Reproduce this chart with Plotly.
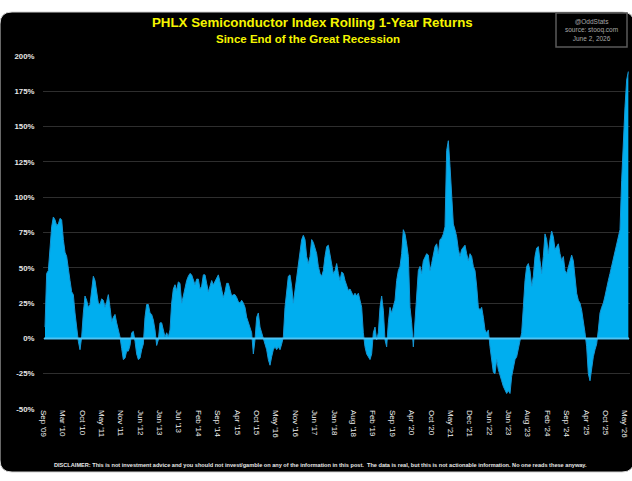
import numpy as np
import plotly.graph_objects as go

# Rolling 1-year return (%), in three consecutive stretches
returns_2009_2013 = [8, 46, 48, 65, 79, 86, 84, 80, 81, 85,
                     84, 70, 61, 58, 51, 41, 33, 31, 18, 6,
                     -2, -8, 1, 18, 30, 27, 22, 24, 34, 44,
                     41, 32, 25, 24, 28, 27, 22, 26, 31, 22,
                     12, 15, 17, 11, 6, 1, -7, -15, -14, -9,
                     -9, -5, 4, 5, -2, -11, -15, -14, -8, -4,
                     15, 24, 24, 18, 17, 13, 6, -5, -1, 11,
                     11, 5, 1, 4, 1, 6, 25, 35, 38, 34,
                     40, 39, 25, 30, 37, 41, 44, 46, 45, 42,
                     38, 42, 42, 35, 37, 45, 45, 39, 33, 37,
                     41, 38, 40, 43, 45, 40, 33, 29, 33, 39,
                     39, 34, 30, 31, 31, 29, 26]
returns_2014_2020 = [25, 27, 25, 22, 15, 11, 8, 4, -11, -1,
                     15, 18, 8, 4, -1, -4, -8, -15, -19, -13,
                     -8, -6, -8, -6, -8, -4, 1, 22, 32, 44,
                     45, 37, 25, 34, 41, 51, 58, 70, 73, 70,
                     58, 53, 58, 70, 68, 63, 60, 51, 46, 44,
                     48, 58, 65, 66, 60, 53, 46, 48, 53, 46,
                     41, 47, 46, 41, 37, 34, 35, 32, 30, 32,
                     30, 32, 27, 22, 4, -6, -11, -13, -15, -11,
                     4, 8, -1, 4, 22, 30, 20, -1, -6, 11,
                     22, 18, 22, 27, 41, 48, 51, 60, 77, 74,
                     67, 58, 22, 11, -6, 15, 32, 48, 51, 46,
                     55, 58, 60, 59]
returns_2020_2026 = [48, 53, 60, 65, 67, 60, 70, 71, 74, 79,
                     133, 140, 122, 100, 81, 77, 72, 63, 58, 63,
                     65, 66, 60, 55, 60, 58, 51, 48, 37, 22,
                     20, 22, 15, 6, 4, 6, -6, -15, -24, -25,
                     -15, -22, -27, -30, -34, -37, -39, -37, -39, -27,
                     -20, -15, -13, -8, -1, 4, 22, 41, 51, 53,
                     48, 37, 44, 58, 64, 65, 55, 46, 58, 74,
                     70, 60, 70, 76, 72, 63, 65, 67, 60, 55,
                     58, 48, 46, 51, 55, 59, 55, 44, 32, 27,
                     25, 20, 13, 4, -6, -25, -30, -20, -13, -8,
                     -4, 6, 18, 22, 25, 30, 37, 41, 46, 51,
                     55, 60, 67, 72, 77, 112, 140, 164, 183, 189]

tick_labels = ["Sep '09", "Mar '10", "Oct '10", "May '11", "Nov '11", "Jun '12",
               "Jan '13", "Jul '13", "Feb '14", "Sep '14", "Apr '15", "Oct '15",
               "May '16", "Nov '16", "Jun '17", "Jan '18", "Aug '18", "Feb '19",
               "Sep '19", "Apr '20", "Oct '20", "May '21", "Dec '21", "Jun '22",
               "Jan '23", "Aug '23", "Feb '24", "Sep '24", "Apr '25", "Oct '25",
               "May '26"]
y_ticks = [-50, -25, 0, 25, 50, 75, 100, 125, 150, 175, 200]

returns = returns_2009_2013 + returns_2014_2020 + returns_2020_2026
n = len(returns)
x = np.arange(n)
tick_pos = np.linspace(-1, n - 3, len(tick_labels))

W, H = 632, 481
ML, MR, MT, MB = 43, 2, 56, 72
PW, PH = W - ML - MR, H - MT - MB


def px(xp):
    return (xp - ML) / PW


def py(yp):
    return (H - MB - yp) / PH


FONT = "Liberation Sans, Arial, sans-serif"

fig = go.Figure()
fig.add_trace(go.Scatter(
    x=x, y=returns, mode="lines", fill="tozeroy",
    line=dict(color="#1596d4", width=1),
    fillcolor="#00AEEF", hoverinfo="skip", showlegend=False))

# dark rounded panel on white page
r = 12
x0, x1, y0, y1 = 0, 634, 12, 472
path = (f"M {px(x0 + r)},{py(y0)} L {px(x1 - r)},{py(y0)} "
        f"Q {px(x1)},{py(y0)} {px(x1)},{py(y0 + r)} "
        f"L {px(x1)},{py(y1 - r)} Q {px(x1)},{py(y1)} {px(x1 - r)},{py(y1)} "
        f"L {px(x0 + r)},{py(y1)} Q {px(x0)},{py(y1)} {px(x0)},{py(y1 - r)} "
        f"L {px(x0)},{py(y0 + r)} Q {px(x0)},{py(y0)} {px(x0 + r)},{py(y0)} Z")
shapes = [
    dict(type="path", path=path, xref="paper", yref="paper",
         fillcolor="black", line=dict(color="#d0d0d0", width=1), layer="below"),
    dict(type="rect", xref="paper", yref="paper",
         x0=px(556), x1=px(627), y0=py(47), y1=py(13),
         line=dict(color="#5a5a5a", width=1.5), fillcolor="rgba(0,0,0,0)"),
    # bright baseline at 0%
    dict(type="line", xref="paper", yref="y", x0=px(44), x1=px(629), y0=0, y1=0,
         line=dict(color="#4cc4f6", width=2), layer="above"),
]

annotations = [
    dict(text="<b>PHLX Semiconductor Index Rolling 1-Year Returns</b>",
         x=px(312), y=py(22), xref="paper", yref="paper", showarrow=False,
         font=dict(family=FONT, size=13.3, color="#F5F500"), xanchor="center", yanchor="middle"),
    dict(text="<b>Since End of the Great Recession</b>",
         x=px(308), y=py(39), xref="paper", yref="paper", showarrow=False,
         font=dict(family=FONT, size=11.5, color="#F5F500"), xanchor="center", yanchor="middle"),
    dict(text="@OddStats<br>source: stooq.com<br>June 2, 2026",
         x=px(591.5), y=py(30), xref="paper", yref="paper", showarrow=False,
         font=dict(family=FONT, size=6.5, color="#a8a8a8"), xanchor="center", yanchor="middle",
         align="center"),
    dict(text="<b>DISCLAIMER: This is not investment advice and you should not invest/gamble on any of the "
              "information in this post.  The data is real, but this is not actionable information. "
              "No one reads these anyway.</b>",
         x=px(320), y=py(465), xref="paper", yref="paper", showarrow=False,
         font=dict(family=FONT, size=5.6, color="#e8e8e8"), xanchor="center", yanchor="middle"),
]

fig.update_layout(
    width=W, height=H,
    margin=dict(l=ML, r=MR, t=MT, b=MB, pad=0),
    paper_bgcolor="white", plot_bgcolor="black",
    shapes=shapes, annotations=annotations,
    xaxis=dict(range=[-1.2, n], tickmode="array", tickvals=tick_pos, ticktext=tick_labels,
               tickangle=90, tickfont=dict(family=FONT, size=8, color="#f0f0f0"),
               showgrid=False, zeroline=False, showline=False, ticks="", fixedrange=True),
    yaxis=dict(range=[-50, 200], tickmode="array", tickvals=y_ticks,
               ticktext=[f"<b>{v}%</b>" for v in y_ticks],
               tickfont=dict(family=FONT, size=7.8, color="#e8e8e8"),
               showgrid=True, gridcolor="#2e2e2e", gridwidth=1,
               zeroline=False,
               showline=False, ticks="outside", ticklen=6, tickcolor="rgba(0,0,0,0)",
               fixedrange=True),
)

fig.write_html("out.html")
